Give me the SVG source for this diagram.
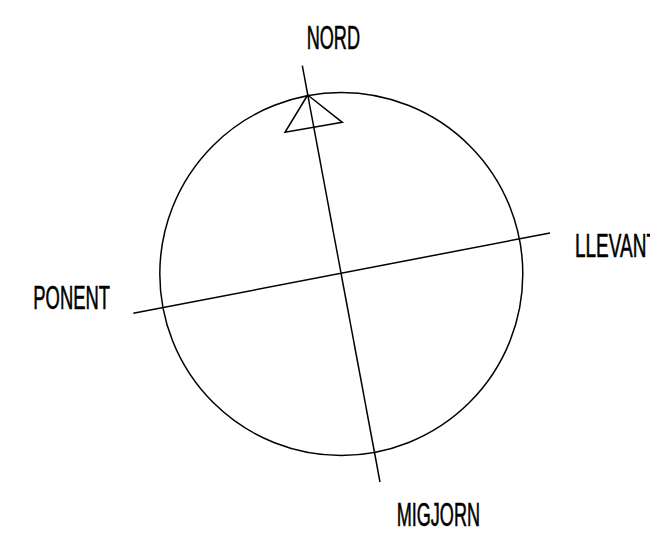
<svg xmlns="http://www.w3.org/2000/svg" width="650" height="535" viewBox="0 0 650 535">
<style>
.ln{fill:none;stroke:#000;stroke-width:1.5;stroke-linejoin:miter}
.lb{font-family:"Liberation Sans","DejaVu Sans",sans-serif;font-size:33px;fill:#000;stroke:#000;stroke-width:0.6}
</style>
<rect width="650" height="535" fill="#fff"/>
<g id="compass">
<circle class="ln" cx="341.3" cy="274" r="181.5"/>
<polygon class="ln" points="307.7,95 285,132.3 342.3,122.3"/>
</g>
<g id="connectors">
<line class="ln" x1="302.3" y1="65.7" x2="380" y2="482"/>
<line class="ln" x1="133.3" y1="313.3" x2="550" y2="233"/>
</g>
<g id="nord"><text class="lb" x="306.7" y="49.3" textLength="53.3" lengthAdjust="spacingAndGlyphs">NORD</text></g>
<g id="llevant"><text class="lb" x="575" y="256.7" textLength="83" lengthAdjust="spacingAndGlyphs">LLEVANT</text></g>
<g id="ponent"><text class="lb" x="33.3" y="309" textLength="76.7" lengthAdjust="spacingAndGlyphs">PONENT</text></g>
<g id="migjorn"><text class="lb" x="396.7" y="526" textLength="83.3" lengthAdjust="spacingAndGlyphs">MIGJORN</text></g>
</svg>
